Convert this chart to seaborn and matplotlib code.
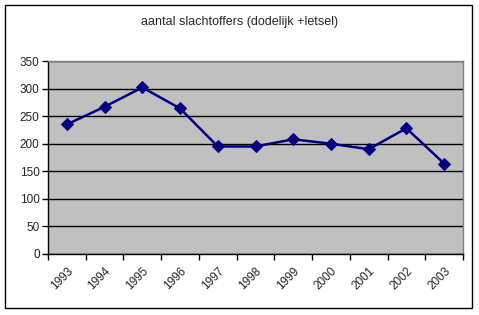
import matplotlib
matplotlib.use("Agg")
import matplotlib.pyplot as plt
import seaborn as sns
import pandas as pd
from matplotlib.patches import Rectangle

years = ["1993", "1994", "1995", "1996", "1997", "1998", "1999", "2000", "2001", "2002", "2003"]
values = [235, 267, 302, 264, 195, 195, 208, 200, 190, 228, 164]
title = "aantal slachtoffers (dodelijk +letsel)"

sns.set_theme(style="white")
plt.rcParams['font.family'] = ['Liberation Sans', 'DejaVu Sans']

df = pd.DataFrame({"pos": range(len(years)), "value": values})

fig = plt.figure(figsize=(4.79, 3.15), dpi=100)
W, H = 479, 315
ax = fig.add_axes([48 / W, 1 - 254 / H, (463 - 48) / W, (254 - 61) / H])
ax.set_facecolor("#C0C0C0")

sns.lineplot(data=df, x="pos", y="value", ax=ax, color="#000080", linewidth=1.8,
             marker="D", markersize=6.5, markeredgecolor="#000080", markerfacecolor="#000080")

ax.set_xlim(-0.5, len(years) - 0.5)
ax.set_ylim(0, 350)
ax.set_yticks(range(0, 351, 50))
ax.yaxis.grid(True, color="black", linewidth=1)
ax.set_axisbelow(True)
ax.set_xticks(range(len(years)))
ax.set_xticklabels(years, rotation=45, ha="right", rotation_mode="anchor", fontsize=8.5)
ax.set_xticks([i - 0.5 for i in range(len(years) + 1)], minor=True)
ax.tick_params(axis="x", which="major", length=0, pad=8)
ax.tick_params(axis="x", which="minor", length=4, width=1, color="black", direction="out", bottom=True)
ax.tick_params(axis="y", length=4, width=1, color="black", direction="out", left=True, labelsize=8.5, pad=2)
ax.set_xlabel("")
ax.set_ylabel("")

for s in ["left", "bottom"]:
    ax.spines[s].set_color("black")
    ax.spines[s].set_linewidth(1)
for s in ["top", "right"]:
    ax.spines[s].set_color("#808080")
    ax.spines[s].set_linewidth(1)

fig.text(0.5, 1 - 22 / H, title, ha="center", va="center", fontsize=9)

fig.patches.append(Rectangle((5 / W, 1 - 308 / H), (472 - 5) / W, (308 - 5) / H,
                             transform=fig.transFigure, fill=False, edgecolor="black", linewidth=1))

fig.savefig("out.png", dpi=100)
